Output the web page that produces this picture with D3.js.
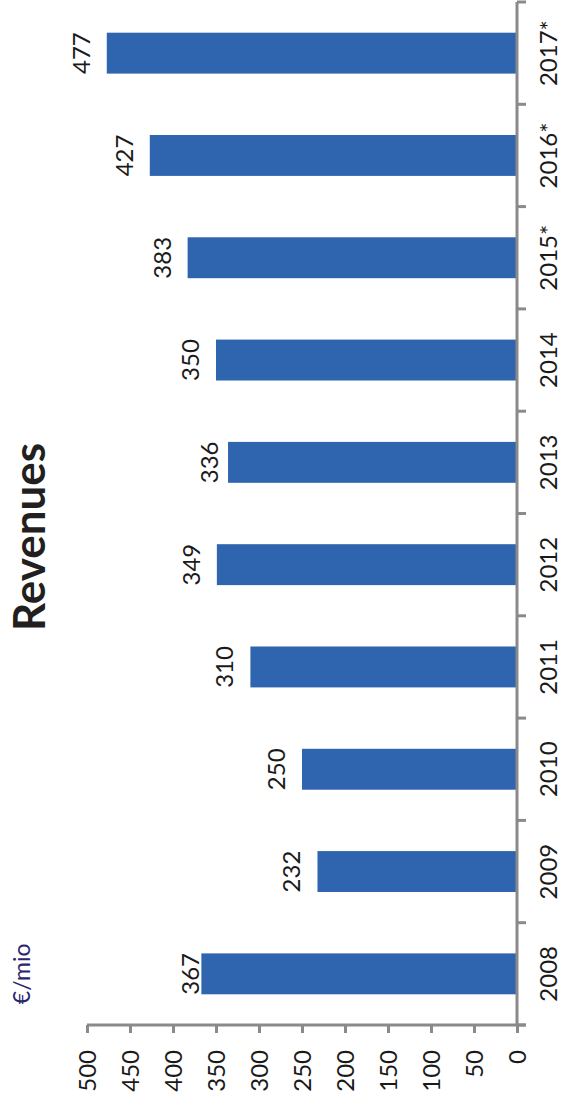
<!DOCTYPE html>
<html><head><meta charset="utf-8">
<script src="https://cdn.jsdelivr.net/npm/d3@7"></script>
<style>html,body{margin:0;padding:0;background:#fff}svg{display:block}</style>
</head><body>
<svg id="c" width="562" height="1102"></svg>
<script>
const categories = ["2008","2009","2010","2011","2012","2013","2014","2015*","2016*","2017*"];
const revenues = [367,232,250,310,349,336,350,383,427,477];
const valueTicks = [0,50,100,150,200,250,300,350,400,450,500];
const title = "Revenues";
const unitLabel = "€/mio";

// layout / style settings
const labelGap = 17;
const labelGapOverride = {"2008": 2, "2013": 10};

const svg = d3.select("#c");
const font = "Lato, 'Open Sans', sans-serif";
const axisColor = "#8a8a8a";
const barColor = "#2F64AE";

const baseX = 517, topY = 2, bottomY = 1025;
const x = d3.scaleLinear().domain([0,500]).range([baseX, 87]);
const y = d3.scaleBand().domain(categories.slice().reverse()).range([topY, bottomY]).padding(0);
const barFrac = 0.4;

// bars
svg.append("g").selectAll("rect").data(categories).join("rect")
  .attr("x", (d,i)=>x(revenues[i]))
  .attr("y", d=>y(d)+y.bandwidth()*(1-barFrac)/2)
  .attr("width", (d,i)=>x(0)-x(revenues[i]))
  .attr("height", y.bandwidth()*barFrac)
  .attr("fill", barColor);

// value labels
svg.append("g").selectAll("text").data(categories).join("text")
  .attr("transform", (d,i)=>{
    const g = (d in labelGapOverride) ? labelGapOverride[d] : labelGap;
    return `translate(${x(revenues[i])-g},${y(d)+y.bandwidth()/2}) rotate(-90)`;
  })
  .attr("text-anchor","middle")
  .attr("font-family", font).attr("font-size", 24).attr("fill","#1a1a1a")
  .text((d,i)=>revenues[i]);

// value axis
const xAxis = d3.axisBottom(x).tickValues(valueTicks).tickSize(8).tickSizeOuter(0);
const gx = svg.append("g").attr("transform",`translate(0,${bottomY})`).call(xAxis);
gx.select(".domain").attr("stroke",axisColor).attr("stroke-width",3)
  .attr("d", `M${x(500)},0H${baseX+9}`);
gx.selectAll(".tick line").attr("stroke",axisColor).attr("stroke-width",3);
gx.selectAll(".tick text")
  .attr("transform","translate(0,25) rotate(-90)")
  .attr("x",0).attr("y",0).attr("dy","0.36em")
  .attr("text-anchor","end")
  .attr("font-family",font).attr("font-size",24).attr("fill","#1a1a1a");

// category axis
const gy = svg.append("g");
gy.append("line").attr("x1",baseX).attr("x2",baseX).attr("y1",topY).attr("y2",bottomY)
  .attr("stroke",axisColor).attr("stroke-width",3);
const bounds = categories.map(d=>y(d)).concat([bottomY]);
gy.selectAll("line.b").data(bounds).join("line").attr("class","b")
  .attr("x1",baseX).attr("x2",baseX+9).attr("y1",d=>d).attr("y2",d=>d)
  .attr("stroke",axisColor).attr("stroke-width",3);
gy.selectAll("text").data(categories).join("text")
  .attr("transform", d=>`translate(557,${y(d)+y.bandwidth()/2}) rotate(-90)`)
  .attr("text-anchor","middle")
  .attr("font-family",font).attr("font-size",24).attr("fill","#1a1a1a")
  .text(d=>d);

// title
svg.append("text")
  .attr("transform","translate(45,537) rotate(-90)")
  .attr("text-anchor","middle")
  .attr("font-family",font).attr("font-weight","bold").attr("font-size",44).attr("fill","#231f20")
  .text(title);

// unit label
svg.append("text")
  .attr("transform",`translate(30,${y("2008")+y.bandwidth()/2}) rotate(-90)`)
  .attr("text-anchor","middle")
  .attr("font-family",font).attr("font-size",23).attr("fill","#2a2470")
  .text(unitLabel);
</script>
</body></html>
